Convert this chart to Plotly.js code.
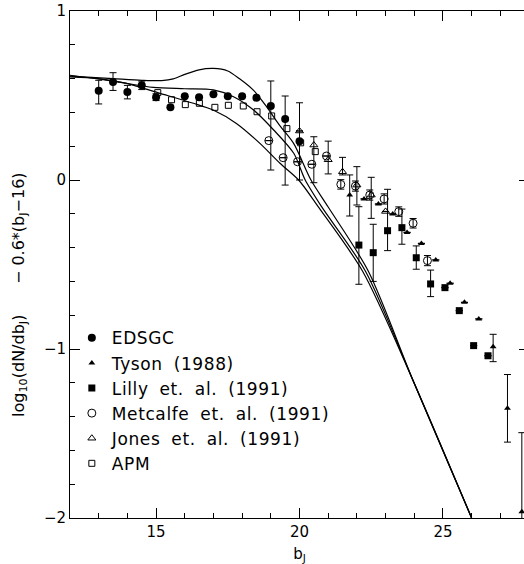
<!DOCTYPE html>
<html>
<head>
<meta charset="utf-8">
<script src="https://cdn.plot.ly/plotly-3.0.1.min.js"></script>
<style>
  html, body { margin: 0; padding: 0; overflow: hidden; background: #fff; }
  #chart { width: 531px; height: 564px; }
  .legendtext { letter-spacing: 0.6px; word-spacing: 5px; }
</style>
</head>
<body>
<div id="chart"></div>
<script>
// ---------- data ----------
const edsgcX = [13.0, 13.5, 14.0, 14.5, 15.0, 15.5, 16.0, 16.5, 17.0, 17.5, 18.0, 18.5, 19.0, 19.5, 20.0];
const edsgcY = [0.528, 0.58, 0.52, 0.56, 0.49, 0.43, 0.495, 0.49, 0.507, 0.495, 0.495, 0.487, 0.438, 0.361, 0.23];
const edsgcErrUp = [0.062, 0.055, 0.04, 0.025, 0.02, 0, 0, 0, 0, 0, 0, 0, 0.148, 0.136, 0.227];
const edsgcErrDn = [0.078, 0.05, 0.04, 0.025, 0.02, 0, 0, 0, 0, 0, 0, 0, 0.379, 0.391, 0.23];

const tysonX = [21.75, 22.25, 22.75, 23.25, 23.75, 24.25, 24.75, 25.25, 25.75, 26.25, 26.75, 27.25, 27.75];
const tysonY = [-0.089, -0.112, -0.142, -0.201, -0.31, -0.375, -0.473, -0.611, -0.724, -0.822, -0.986, -1.351, -1.963];
const tysonErrUp = [0.119, 0, 0, 0, 0, 0, 0, 0, 0, 0, 0.073, 0.2, 0.468];
const tysonErrDn = [0.124, 0, 0, 0, 0, 0, 0, 0, 0, 0, 0.089, 0.2, 0.1];

const lillyX = [22.07, 22.57, 23.07, 23.57, 24.07, 24.57, 25.07, 25.57, 26.07, 26.57];
const lillyY = [-0.385, -0.43, -0.30, -0.282, -0.46, -0.615, -0.637, -0.773, -0.98, -1.04];
const lillyErrUp = [0.227, 0.168, 0.245, 0.11, 0.07, 0.082, 0, 0, 0, 0];
const lillyErrDn = [0.232, 0.17, 0.118, 0.098, 0.068, 0.075, 0, 0, 0, 0];

const metcalfeX = [18.93, 19.43, 19.93, 20.43, 20.94, 21.44, 21.95, 22.45, 22.95, 23.46, 23.96, 24.46];
const metcalfeY = [0.233, 0.132, 0.108, 0.093, 0.142, -0.026, -0.036, -0.089, -0.112, -0.187, -0.256, -0.477];
const metcalfeErr = [0, 0, 0, 0, 0, 0.028, 0.03, 0.03, 0.03, 0.028, 0.028, 0.03];

const jonesX = [20.0, 20.5, 21.0, 21.5, 22.0, 22.5, 23.0];
const jonesY = [0.29, 0.207, 0.12, 0.049, -0.03, -0.089, -0.186];
const jonesErrUp = [0, 0.049, 0.11, 0.085, 0.109, 0.105, 0];
const jonesErrDn = [0, 0.223, 0.084, 0.019, 0.118, 0.138, 0];

const apmX = [15.06, 15.54, 16.02, 16.51, 17.05, 17.52, 18.04, 18.52, 19.03, 19.56, 20.04, 20.55];
const apmY = [0.517, 0.475, 0.446, 0.454, 0.43, 0.442, 0.438, 0.404, 0.379, 0.304, 0.22, 0.168];

// model curves
const curveAX = [12, 13.5, 14.5, 15.2, 15.6, 16.0, 16.5, 17.0, 17.5, 17.9, 18.4, 18.85, 19.3, 19.8, 20.4, 21.0, 22.4, 23.95, 26.0];
const curveAY = [0.615, 0.60, 0.59, 0.588, 0.598, 0.625, 0.652, 0.66, 0.645, 0.60, 0.53, 0.434, 0.325, 0.215, 0.0, -0.16, -0.54, -1.183, -2.0];
const curveBX = [12, 13.5, 14.9, 16.0, 17.0, 17.7, 18.4, 19.1, 19.8, 20.2, 20.77, 22.3, 23.95, 26.0];
const curveBY = [0.62, 0.585, 0.548, 0.54, 0.533, 0.493, 0.414, 0.296, 0.158, 0.0, -0.158, -0.54, -1.183, -2.0];
const curveCX = [12, 13.0, 13.97, 15.14, 16.3, 16.99, 17.8, 18.62, 19.32, 19.97, 20.65, 22.2, 23.95, 26.0];
const curveCY = [0.61, 0.6, 0.572, 0.513, 0.454, 0.414, 0.335, 0.217, 0.099, 0.0, -0.158, -0.54, -1.183, -2.0];

const xTickVals = [15, 20, 25];
const xTickText = ['15', '20', '25'];
const yTickVals = [-2, -1, 0, 1];
const yTickText = ['\u22122', '\u22121', '0', '1'];

const legendNames = ['EDSGC', 'Tyson (1988)', 'Lilly et. al. (1991)', 'Metcalfe et. al. (1991)', 'Jones et. al. (1991)', 'APM'];

// ---------- traces ----------
const FONT = 'DejaVu Sans, Liberation Sans, Arial, sans-serif';
function errY(up, dn) {
  return { type: 'data', symmetric: false, array: up, arrayminus: dn, color: '#000', thickness: 1, width: 3.5 };
}
const curveLine = { color: '#000', width: 1.2, shape: 'spline', smoothing: 0.8 };

const traces = [
  { x: curveAX, y: curveAY, mode: 'lines', line: curveLine, showlegend: false, hoverinfo: 'skip' },
  { x: curveBX, y: curveBY, mode: 'lines', line: curveLine, showlegend: false, hoverinfo: 'skip' },
  { x: curveCX, y: curveCY, mode: 'lines', line: curveLine, showlegend: false, hoverinfo: 'skip' },
  { x: edsgcX, y: edsgcY, name: legendNames[0], mode: 'markers',
    marker: { symbol: 'circle', size: 8, color: '#000' }, error_y: errY(edsgcErrUp, edsgcErrDn) },
  { x: tysonX, y: tysonY, name: legendNames[1], mode: 'markers',
    marker: { symbol: 'triangle-up', size: 6, color: '#000' }, error_y: errY(tysonErrUp, tysonErrDn) },
  { x: lillyX, y: lillyY, name: legendNames[2], mode: 'markers',
    marker: { symbol: 'square', size: 7, color: '#000' }, error_y: errY(lillyErrUp, lillyErrDn) },
  { x: metcalfeX, y: metcalfeY, name: legendNames[3], mode: 'markers',
    marker: { symbol: 'circle-open', size: 8, color: '#000', line: { width: 1 } }, error_y: errY(metcalfeErr, metcalfeErr) },
  { x: jonesX, y: jonesY, name: legendNames[4], mode: 'markers',
    marker: { symbol: 'triangle-up-open', size: 7, color: '#000', line: { width: 1 } }, error_y: errY(jonesErrUp, jonesErrDn) },
  { x: apmX, y: apmY, name: legendNames[5], mode: 'markers',
    marker: { symbol: 'square-open', size: 6, color: '#000', line: { width: 1 } } }
];

const layout = {
  width: 531, height: 564,
  margin: { l: 70, r: 2, t: 11, b: 46 },
  paper_bgcolor: '#fff', plot_bgcolor: '#fff',
  font: { family: FONT, color: '#000', size: 15 },
  showlegend: true,
  legend: {
    x: 0.004, xanchor: 'left', y: 0.39, yanchor: 'top',
    bgcolor: 'rgba(0,0,0,0)', borderwidth: 0,
    font: { family: FONT, size: 17, color: '#000' },
    tracegroupgap: 0
  },
  xaxis: {
    range: [12, 28], showgrid: false, zeroline: false,
    showline: true, linecolor: '#000', linewidth: 1, mirror: 'ticks',
    ticks: 'inside', ticklen: 10, tickcolor: '#000', tickwidth: 1,
    tickmode: 'array', tickvals: xTickVals, ticktext: xTickText,
    tickfont: { family: FONT, size: 15 },
    minor: { tickmode: 'linear', tick0: 12, dtick: 1, ticks: 'inside', ticklen: 5, tickcolor: '#000', tickwidth: 1 },
    title: { text: 'b<sub>J</sub>', font: { family: FONT, size: 15 }, standoff: 8 }
  },
  yaxis: {
    range: [-2, 1], showgrid: false, zeroline: false,
    showline: true, linecolor: '#000', linewidth: 1, mirror: 'ticks',
    ticks: 'inside', ticklen: 10, tickcolor: '#000', tickwidth: 1,
    tickmode: 'array', tickvals: yTickVals, ticktext: yTickText,
    tickfont: { family: FONT, size: 15 },
    minor: { tickmode: 'linear', tick0: 0, dtick: 0.2, ticks: 'inside', ticklen: 5, tickcolor: '#000', tickwidth: 1 }
  },
  annotations: [{
    xref: 'paper', yref: 'paper', x: -0.109, y: 0.44, xanchor: 'center', yanchor: 'middle',
    textangle: -90, showarrow: false,
    text: 'log<sub>10</sub>(dN/db<sub>J</sub>)\u00a0\u00a0\u00a0\u00a0\u00a0\u00a0\u2212 0.6*(b<sub>J</sub>\u221216)',
    font: { family: FONT, size: 16, color: '#000' }
  }]
};

Plotly.newPlot('chart', traces, layout, { displayModeBar: false, staticPlot: true });
</script>
</body>
</html>
